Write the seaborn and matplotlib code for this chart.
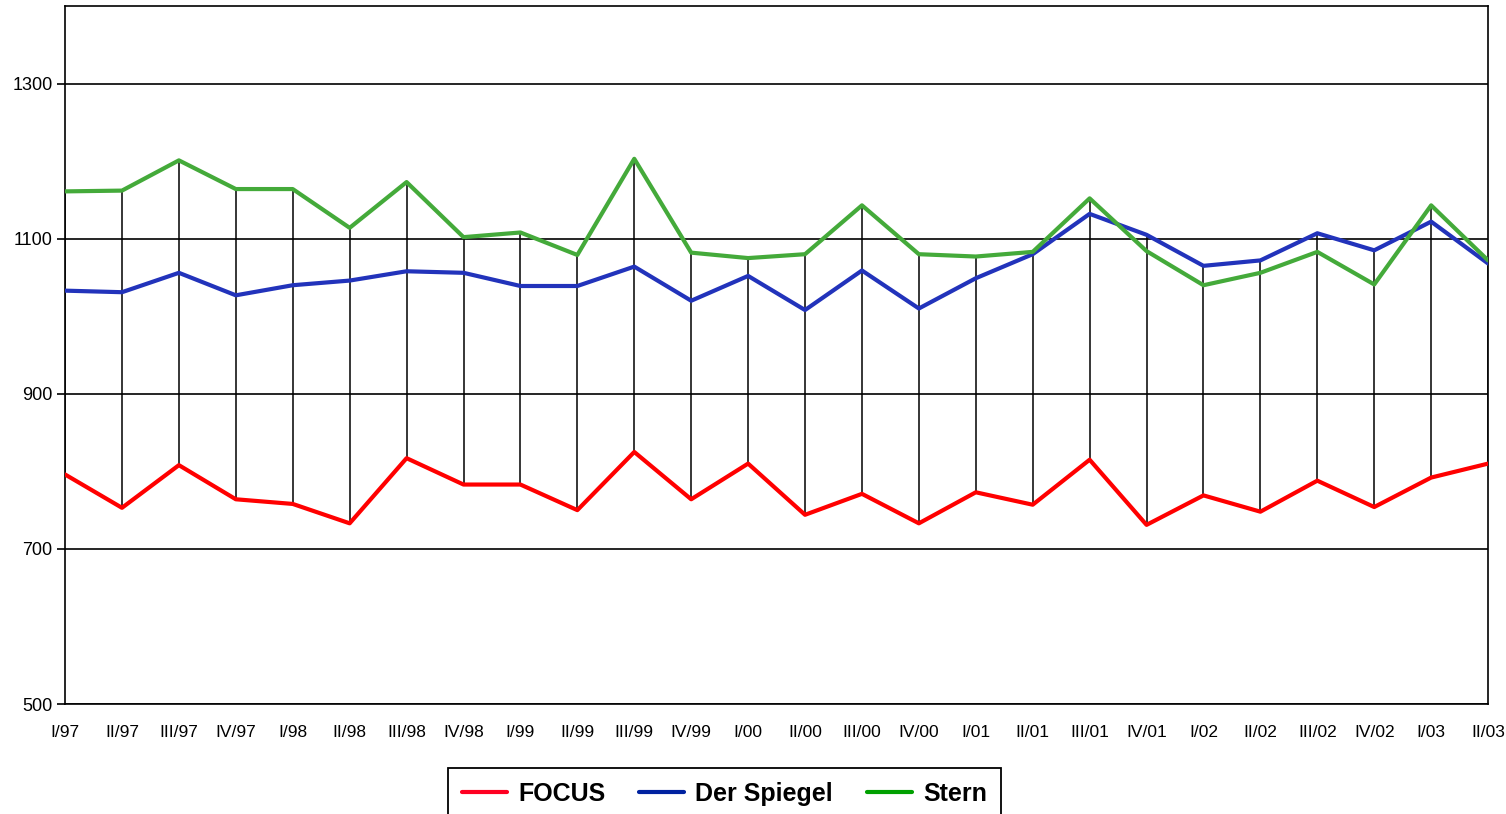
import pandas as pd
import seaborn as sns
import matplotlib.pyplot as plt

# Quarters
quarters = ['I/97', 'II/97', 'III/97', 'IV/97', 'I/98', 'II/98', 'III/98', 'IV/98',
            'I/99', 'II/99', 'III/99', 'IV/99', 'I/00', 'II/00', 'III/00', 'IV/00',
            'I/01', 'II/01', 'III/01', 'IV/01', 'I/02', 'II/02', 'III/02', 'IV/02',
            'I/03', 'II/03']

# Values
focus = [796, 753, 808, 764, 758, 733, 817, 783, 783, 750, 825, 764, 810,
         744, 771, 733, 773, 757, 815, 731, 769, 748, 788, 754, 792, 810]
spiegel = [1033, 1031, 1056, 1027, 1040, 1046, 1058, 1056, 1039, 1039, 1064, 1020, 1052,
           1008, 1059, 1010, 1049, 1080, 1132, 1105, 1065, 1072, 1107, 1085, 1122, 1068]
stern = [1161, 1162, 1201, 1164, 1164, 1114, 1173, 1102, 1108, 1079, 1203, 1082, 1075,
         1080, 1143, 1080, 1077, 1083, 1152, 1084, 1040, 1056, 1083, 1041, 1143, 1072]

series_names = ['FOCUS', 'Der Spiegel', 'Stern']
colors = ['#ff0000', '#2233bb', '#44aa3a']

df = pd.DataFrame({
    'pos': list(range(len(quarters))) * 3,
    'value': focus + spiegel + stern,
    'magazine': [n for n in series_names for _ in quarters],
})

sns.set_style("white")
plt.rcParams['font.family'] = ['Liberation Sans', 'DejaVu Sans']
plt.rcParams['text.color'] = 'black'

fig = plt.figure(figsize=(15.06, 8.14), dpi=100)
ax = fig.add_axes([0.0432, 0.1351, 0.9449, 0.8575])

# high-low lines
wide = pd.DataFrame({'FOCUS': focus, 'Der Spiegel': spiegel, 'Stern': stern})
ax.vlines(range(len(quarters)), wide.min(axis=1), wide.max(axis=1),
          colors='black', linewidth=1.1, zorder=1)

sns.lineplot(data=df, x='pos', y='value', hue='magazine', hue_order=series_names,
             palette=colors, linewidth=3.0, ax=ax, legend=False, zorder=3)

ax.set_xlim(0, len(quarters) - 1)
ax.set_ylim(500, 1400)
ax.set_yticks([500, 700, 900, 1100, 1300])
ax.set_xticks(range(len(quarters)))
ax.set_xticklabels(quarters)
ax.set_xlabel('')
ax.set_ylabel('')
ax.yaxis.grid(True, color='black', linewidth=1.2)
ax.set_axisbelow(True)
for s in ax.spines.values():
    s.set_color('black')
    s.set_linewidth(1.2)
ax.tick_params(axis='y', direction='out', length=6, width=1.2, colors='black',
               labelsize=13, pad=3, left=True)
ax.tick_params(axis='x', length=0, labelsize=12.5, pad=15, colors='black')

# legend
handles = [plt.Line2D([], [], color=c, linewidth=3) for c in ['#ff0022', '#0022a0', '#00a000']]
leg = fig.legend(handles, series_names, loc='upper center', bbox_to_anchor=(0.481, 0.072),
                 ncol=3, frameon=True, fancybox=False, framealpha=1, handlelength=1.8,
                 columnspacing=1.35, handletextpad=0.45, borderpad=0.55,
                 prop={'weight': 'bold', 'size': 18})
leg.get_frame().set_edgecolor('black')
leg.get_frame().set_linewidth(1.3)
for t in leg.get_texts():
    t.set_color('black')

fig.savefig('out.png', dpi=100)
